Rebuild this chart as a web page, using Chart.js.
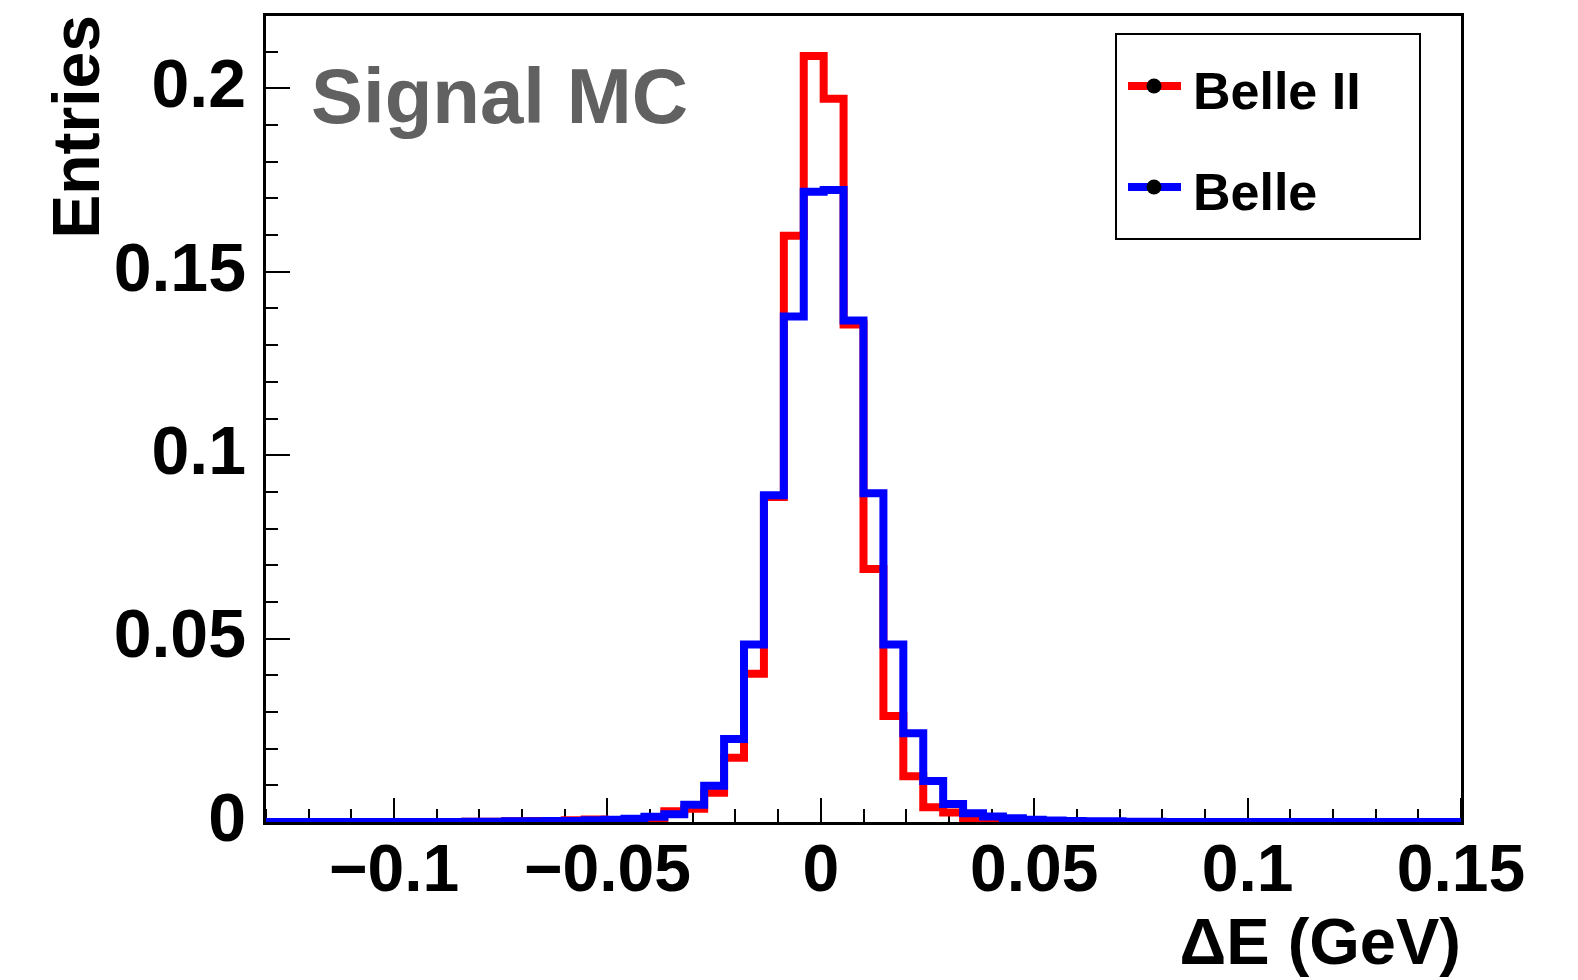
<!DOCTYPE html>
<html>
<head>
<meta charset="utf-8">
<title>Delta E - Signal MC</title>
<script src="https://cdn.jsdelivr.net/npm/chart.js@4.4.1/dist/chart.umd.min.js"></script>
<style>
  html, body { margin: 0; padding: 0; background: #fff; }
  canvas { display: block; }
</style>
</head>
<body>
<canvas id="chart" width="1578" height="980"></canvas>
<script>
// histogram binning (GeV)
const xMin = -0.13;
const xMax = 0.15;
const nBins = 60;

// normalised entries per bin
const belle2Values = [
    0, 0, 0, 0, 0, 0, 0, 0, 0, 0,
    0.0001, 0.0001, 0.0002, 0.0003, 0.0003, 0.0005, 0.0007, 0.0005, 0.0005, 0.0006,
    0.0029, 0.0036, 0.0080, 0.0175, 0.0404, 0.0886, 0.1598, 0.2088, 0.1972, 0.1356,
    0.0690, 0.0289, 0.0125, 0.0040, 0.0026, 0.0010, 0.0005, 0.0003, 0.0002, 0.0001,
    0.0001, 0, 0, 0, 0, 0, 0, 0, 0, 0,
    0, 0, 0, 0, 0, 0, 0, 0, 0, 0
];
const belleValues = [
    0, 0, 0, 0, 0, 0, 0, 0, 0, 0,
    0.0001, 0.0001, 0.0002, 0.0002, 0.0003, 0.0003, 0.0005, 0.0006, 0.0009, 0.0014,
    0.0021, 0.0047, 0.0099, 0.0226, 0.0484, 0.0891, 0.1378, 0.1718, 0.1723, 0.1367,
    0.0896, 0.0484, 0.0242, 0.0112, 0.0049, 0.0024, 0.0015, 0.0010, 0.0006, 0.0004,
    0.0003, 0.0002, 0.0002, 0.0001, 0.0001, 0, 0, 0, 0, 0,
    0, 0, 0, 0, 0, 0, 0, 0, 0, 0
];

const seriesNames = ['Belle II', 'Belle'];
const seriesColors = ['#ff0000', '#0000ff'];

const xTickValues = [-0.1, -0.05, 0, 0.05, 0.1, 0.15];
const xTickLabels = ['\u22120.1', '\u22120.05', '0', '0.05', '0.1', '0.15'];
const yTickValues = [0, 0.05, 0.1, 0.15, 0.2];
const yTickLabels = ['0', '0.05', '0.1', '0.15', '0.2'];

const yMax = 0.22;
const plotLabel = 'Signal MC';
const xTitle = '\u0394E (GeV)';
const yTitle = 'Entries';

const FONT = '"Liberation Sans", Arial, Helvetica, sans-serif';
Chart.defaults.font.family = FONT;
Chart.defaults.font.weight = 'bold';
Chart.defaults.color = '#000';

const binWidth = (xMax - xMin) / nBins;

// step points: left edge of every bin + closing right edge
function toSteps(values) {
    const pts = values.map((v, i) => ({ x: xMin + i * binWidth, y: v }));
    pts.push({ x: xMax, y: values[values.length - 1] });
    return pts;
}

// ROOT-like frame, inward ticks, label and legend box
const rootStyle = {
    id: 'rootStyle',
    beforeDatasetsDraw(chart) {
        const { ctx, chartArea: a, scales: { x, y } } = chart;
        ctx.save();
        ctx.strokeStyle = '#000';
        ctx.lineWidth = 2;
        ctx.beginPath();
        for (let i = 0; i <= 22; i++) {
            const py = Math.round(y.getPixelForValue(i * 0.01));
            const len = i % 5 === 0 ? 24 : 12;
            ctx.moveTo(a.left, py);
            ctx.lineTo(a.left + len, py);
        }
        for (let i = -13; i <= 15; i++) {
            const px = Math.round(x.getPixelForValue(i * 0.01));
            const len = i % 5 === 0 ? 24 : 13;
            ctx.moveTo(px, a.bottom);
            ctx.lineTo(px, a.bottom - len);
        }
        ctx.stroke();
        ctx.restore();
    },
    afterDatasetsDraw(chart) {
        const { ctx, chartArea: a } = chart;
        ctx.save();
        ctx.strokeStyle = '#000';
        ctx.lineWidth = 3;
        ctx.strokeRect(a.left - 1.5, a.top - 0.5, a.right - a.left + 3, a.bottom - a.top + 2);
        ctx.restore();
    },
    afterDraw(chart) {
        const ctx = chart.ctx;
        ctx.save();

        // plot label
        ctx.fillStyle = '#616161';
        ctx.font = 'bold 78px ' + FONT;
        ctx.textBaseline = 'alphabetic';
        ctx.fillText(plotLabel, 311, 123);

        // legend box
        ctx.fillStyle = '#fff';
        ctx.fillRect(1116, 34, 304, 205);
        ctx.strokeStyle = '#000';
        ctx.lineWidth = 2;
        ctx.strokeRect(1116, 34, 304, 205);

        const rows = [{ y: 86, base: 109 }, { y: 187, base: 210 }];
        seriesNames.forEach((name, i) => {
            const r = rows[i];
            ctx.strokeStyle = seriesColors[i];
            ctx.lineWidth = 8;
            ctx.beginPath();
            ctx.moveTo(1128, r.y);
            ctx.lineTo(1181, r.y);
            ctx.stroke();
            ctx.fillStyle = '#000';
            ctx.beginPath();
            ctx.arc(1154, r.y, 7.5, 0, Math.PI * 2);
            ctx.fill();
            ctx.font = 'bold 52px ' + FONT;
            ctx.fillText(name, 1193, r.base);
        });
        ctx.restore();
    }
};

new Chart(document.getElementById('chart'), {
    type: 'line',
    data: {
        datasets: [
            {
                label: seriesNames[0],
                data: toSteps(belle2Values),
                borderColor: seriesColors[0],
                borderWidth: 8,
                stepped: 'before',
                pointRadius: 0,
                fill: false,
                order: 1
            },
            {
                label: seriesNames[1],
                data: toSteps(belleValues),
                borderColor: seriesColors[1],
                borderWidth: 8,
                stepped: 'before',
                pointRadius: 0,
                fill: false,
                order: 0
            }
        ]
    },
    options: {
        responsive: false,
        animation: false,
        devicePixelRatio: 1,
        layout: { padding: { left: 0, top: 15, right: 117, bottom: 0 } },
        plugins: {
            legend: { display: false },
            tooltip: { enabled: false }
        },
        scales: {
            x: {
                type: 'linear',
                min: xMin,
                max: xMax,
                grid: { display: false, drawTicks: false },
                border: { display: false },
                afterBuildTicks: (scale) => {
                    scale.ticks = xTickValues.map(v => ({ value: v }));
                },
                afterFit: (scale) => {
                    scale.height = 158;
                    scale.paddingLeft = 0;
                    scale.paddingRight = 0;
                },
                ticks: {
                    autoSkip: false,
                    maxRotation: 0,
                    padding: 11,
                    font: { size: 66, weight: 'bold' },
                    callback: (value, index) => xTickLabels[index]
                },
                title: {
                    display: true,
                    text: xTitle,
                    align: 'end',
                    font: { size: 65, weight: 'bold', lineHeight: 1 },
                    padding: { top: 0, bottom: 1 }
                }
            },
            y: {
                type: 'linear',
                min: 0,
                max: yMax,
                grid: { display: false, drawTicks: false },
                border: { display: false },
                afterBuildTicks: (scale) => {
                    scale.ticks = yTickValues.map(v => ({ value: v }));
                },
                afterFit: (scale) => {
                    scale.width = 266;
                    scale.paddingTop = 0;
                    scale.paddingBottom = 0;
                },
                ticks: {
                    padding: 20,
                    font: { size: 68, weight: 'bold' },
                    callback: (value, index) => yTickLabels[index]
                },
                title: {
                    display: true,
                    text: yTitle,
                    align: 'end',
                    font: { size: 66, weight: 'bold', lineHeight: 1 },
                    padding: { top: 48, bottom: 0 }
                }
            }
        }
    },
    plugins: [rootStyle]
});
</script>
</body>
</html>
